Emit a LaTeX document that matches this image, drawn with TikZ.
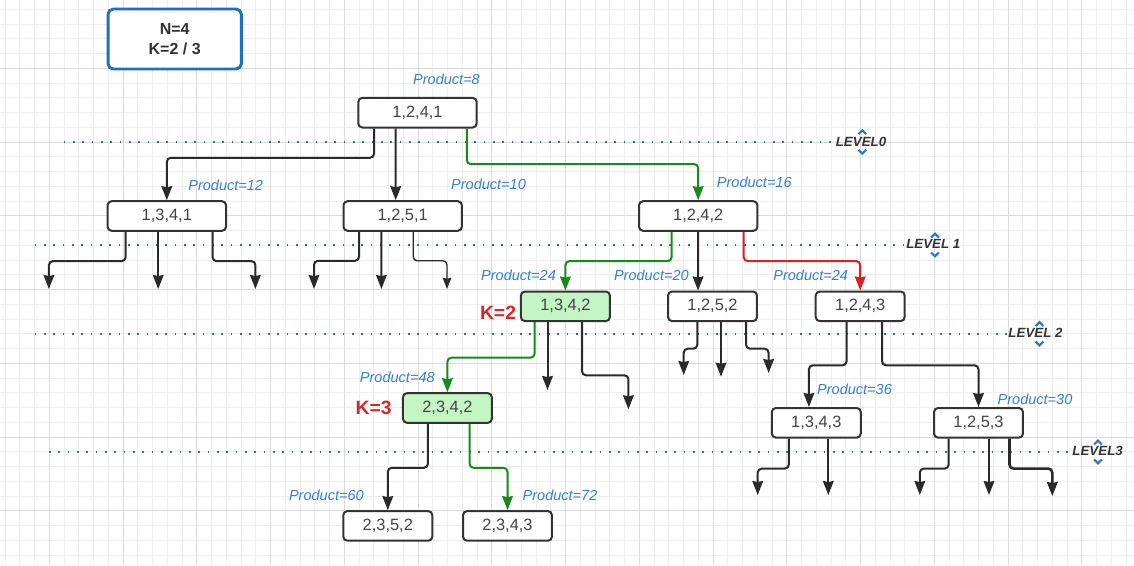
\documentclass[tikz,border=0pt]{standalone}
\usepackage{fontspec}
\setmainfont{Liberation Sans}
\usetikzlibrary{arrows.meta,calc}
\definecolor{gridminor}{HTML}{EEEEEE}
\definecolor{gridmajor}{HTML}{DBDBDB}
\definecolor{boxline}{HTML}{333333}
\definecolor{boxtext}{HTML}{444444}
\definecolor{edgecol}{HTML}{2A2A2A}
\definecolor{lblblue}{HTML}{3480D0}
\definecolor{nblue}{HTML}{1F6FC6}
\definecolor{egreen}{HTML}{178A1C}
\definecolor{ered}{HTML}{DD2020}
\definecolor{kred}{HTML}{D9262B}
\definecolor{gfill}{HTML}{C4F5C4}
\definecolor{lvl}{HTML}{3A6E7A}
\definecolor{chevcol}{HTML}{2F74C8}
\newcommand\mychevup[1]{\draw[chevst] ($(#1)+(-3.8,2)$) -- ++(3.8,-3.8) -- ++(3.8,3.8);}
\newcommand\mychevdn[1]{\draw[chevst] ($(#1)+(-3.8,-2)$) -- ++(3.8,3.8) -- ++(3.8,-3.8);}
\begin{document}
\begin{tikzpicture}[x=0.75pt,y=-0.75pt,
  tnode/.style={draw=boxline, line width=1.5pt, rounded corners=3pt, fill=white, text=boxtext,
    font=\fontsize{12.3}{14}\selectfont, minimum height=22.2pt, inner sep=0pt},
  wide/.style={tnode, minimum width=88.8pt},
  narrow/.style={tnode, minimum width=66.7pt},
  hit/.style={fill=gfill},
  edge/.style={draw=edgecol, line width=1.5pt, rounded corners=3pt,
    -{Stealth[length=10.5pt,width=8pt,inset=0.8pt]}},
  thinedge/.style={edge, line width=1pt, -{Stealth[length=8.5pt,width=6.5pt,inset=0.8pt]}},
  gedge/.style={edge, draw=egreen, color=egreen},
  redge/.style={edge, draw=ered, color=ered},
  prod/.style={font=\fontsize{10.9}{12}\selectfont\itshape, text=lblblue, inner sep=0pt},
  kl/.style={font=\fontsize{14.5}{16}\selectfont\bfseries, text=kred, inner sep=0pt},
  lvltxt/.style={font=\fontsize{10}{12}\selectfont\bfseries\itshape, text=boxline, inner sep=0pt},
  lvlline/.style={draw=lvl, line width=1.4pt, dash pattern=on 1.4pt off 5.6pt},
  chevst/.style={draw=chevcol, line width=1.6pt}
]
\useasboundingbox (0,0) rectangle (1134,565);
\fill[white] (0,0) rectangle (1134,565);
% grid
\foreach \i in {0,...,76} { \draw[gridminor, line width=0.75pt] ({5.05+14.75*\i},0) -- ({5.05+14.75*\i},565); }
\foreach \j in {0,...,37} { \draw[gridminor, line width=0.75pt] (0,{9.3+14.75*\j}) -- (1134,{9.3+14.75*\j}); }
\foreach \i in {0,...,14} { \draw[gridmajor, line width=0.75pt] ({49.3+73.75*\i},0) -- ({49.3+73.75*\i},565); }
\foreach \j in {0,...,6} { \draw[gridmajor, line width=0.75pt] (0,{68.3+73.75*\j}) -- (1134,{68.3+73.75*\j}); }

% info box
\node[draw=nblue, line width=2.2pt, rounded corners=4pt, fill=white, minimum width=100pt, minimum height=45pt,
  align=center, text=boxline, font=\fontsize{12}{15}\selectfont\bfseries] (info) at (174.7,39) {N=4\\K=2 / 3};

% level lines
\node[lvltxt] (L0) at (861,141.7) {LEVEL0};
\node[lvltxt] (L1) at (933.3,243.6) {LEVEL 1};
\node[lvltxt] (L2) at (1035.5,332.8) {LEVEL 2};
\node[lvltxt] (L3) at (1097.6,451.2) {LEVEL3};
\coordinate (c0) at (63.6,141.7);
\coordinate (c1) at (34.6,245);
\coordinate (c2) at (34.6,334);
\coordinate (c3) at (48.9,451.7);
\draw[lvlline] (c0) -- (L0.west |- c0);
\draw[lvlline] (c1) -- (L1.west |- c1);
\draw[lvlline] (c2) -- (L2.west |- c2);
\draw[lvlline] (c3) -- (L3.west |- c3);
\mychevup{862.3,132} \mychevdn{862.3,151.8}
\mychevup{935,235.5} \mychevdn{935,254.5}
\mychevup{1039.5,324} \mychevdn{1039.5,343.5}
\mychevup{1098,442.5} \mychevdn{1098,461.5}

% nodes
\node[wide] (n1241) at (417.5,112.7) {1,2,4,1};
\node[wide] (n1341) at (166.8,216) {1,3,4,1};
\node[wide] (n1251) at (402.7,216) {1,2,5,1};
\node[wide] (n1242) at (698.2,216) {1,2,4,2};
\node[narrow,hit] (n1342) at (565.4,306.3) {1,3,4,2};
\node[narrow] (n1252) at (712.5,306.3) {1,2,5,2};
\node[narrow] (n1243) at (860.2,306.3) {1,2,4,3};
\node[narrow,hit] (n2342) at (447.4,408) {2,3,4,2};
\node[narrow] (n1343) at (816.3,422.8) {1,3,4,3};
\node[narrow] (n1253) at (978.5,422.8) {1,2,5,3};
\node[narrow] (n2352) at (387.8,525.9) {2,3,5,2};
\node[narrow] (n2343) at (507.5,525.9) {2,3,4,3};

% labels
\node[prod] (p8) at (446.5,79) {Product=8};
\node[prod] (p12) at (225.7,185.7) {Product=12};
\node[prod] (p10) at (488.5,184.5) {Product=10};
\node[prod] (p16) at (754.3,182.8) {Product=16};
\node[prod] (p24a) at (518.5,275) {Product=24};
\node[prod] (p20) at (651.4,275) {Product=20};
\node[prod] (p24b) at (810.7,275) {Product=24};
\node[prod] (p48) at (397.3,377.3) {Product=48};
\node[prod] (p36) at (854.5,389) {Product=36};
\node[prod] (p30) at (1035,399) {Product=30};
\node[prod] (p60) at (326.4,495) {Product=60};
\node[prod] (p72) at (560,495) {Product=72};
\node[kl] (k2) at (498,312.3) {K=2};
\node[kl] (k3) at (373.7,407.7) {K=3};

% stub ends
\coordinate (s1) at (48.9,289);
\coordinate (s2) at (158.2,289);
\coordinate (s3) at (255.4,289);
\coordinate (s4) at (314,289);
\coordinate (s5) at (381.4,289);
\coordinate (s6) at (447,289);
\coordinate (s7) at (547.5,390);
\coordinate (s8) at (628.4,409.3);
\coordinate (s9) at (683.7,375);
\coordinate (s10) at (721,376.7);
\coordinate (s11) at (768.6,373);
\coordinate (s12) at (757.7,495);
\coordinate (s13) at (828.3,495);
\coordinate (s14) at (919.8,495);
\coordinate (s15) at (989,495);
\coordinate (s16) at (1052.3,496);

% edges from root
\draw[edge] ($(n1241.south)+(-43.5,0)$) -- ++(0,29.3) -| (n1341.north);
\draw[edge] ($(n1241.south)+(-21.8,0)$) -- ($(n1251.north)+(-7,0)$);
\draw[gedge] ($(n1241.south)+(49.3,0)$) -- ++(0,35.6) -| (n1242.north);
% 1,3,4,1
\draw[edge] ($(n1341.south)+(-41.1,0)$) -- ++(0,29.3) -| (s1);
\draw[edge] ($(n1341.south)+(-8.6,0)$) -- (s2);
\draw[edge] ($(n1341.south)+(45.7,0)$) -- ++(0,29.3) -| (s3);
% 1,2,5,1
\draw[edge] ($(n1251.south)+(-43.7,0)$) -- ++(0,29) -| (s4);
\draw[edge] ($(n1251.south)+(-21.3,0)$) -- (s5);
\draw[thinedge] ($(n1251.south)+(10.5,0)$) -- ++(0,29) -| (s6);
% 1,2,4,2
\draw[gedge] ($(n1242.south)+(-26.6,0)$) -- ++(0,29.3) -| (n1342.north);
\draw[edge] (n1242.south) -- ($(n1252.north)+(-14.5,0)$);
\draw[redge] ($(n1242.south)+(45.5,0)$) -- ++(0,29.3) -| (n1243.north);
% 1,3,4,2
\draw[gedge] ($(n1342.south)+(-30.8,0)$) -- ++(0,35.6) -| (n2342.north);
\draw[edge] ($(n1342.south)+(-17.9,0)$) -- (s7);
\draw[edge] ($(n1342.south)+(16.6,0)$) -- ++(0,53.2) -| (s8);
% 1,2,5,2
\draw[edge] ($(n1252.south)+(-15.2,0)$) -- ++(0,26.6) -| (s9);
\draw[edge] ($(n1252.south)+(8.5,0)$) -- (s10);
\draw[edge] ($(n1252.south)+(33.5,0)$) -- ++(0,26.6) -| (s11);
% 1,2,4,3
\draw[edge] ($(n1243.south)+(-13.6,0)$) -- ++(0,43.2) -| ($(n1343.north)+(-7.4,0)$);
\draw[edge] ($(n1243.south)+(21.8,0)$) -- ++(0,43.2) -| (n1253.north);
% 2,3,4,2
\draw[edge] ($(n2342.south)+(-19.5,0)$) -- ++(0,44) -| (n2352.north);
\draw[gedge] ($(n2342.south)+(22.2,0)$) -- ++(0,44) -| (n2343.north);
% 1,3,4,3
\draw[edge] ($(n1343.south)+(-27.5,0)$) -- ++(0,30) -| (s12);
\draw[edge] ($(n1343.south)+(12,0)$) -- (s13);
% 1,2,5,3
\draw[edge] ($(n1253.south)+(-29.8,0)$) -- ++(0,30) -| (s14);
\draw[edge] ($(n1253.south)+(10.5,0)$) -- (s15);
\draw[edge, line width=1.9pt] ($(n1253.south)+(31,0)$) -- ++(0,30) -| (s16);
\end{tikzpicture}
\end{document}
